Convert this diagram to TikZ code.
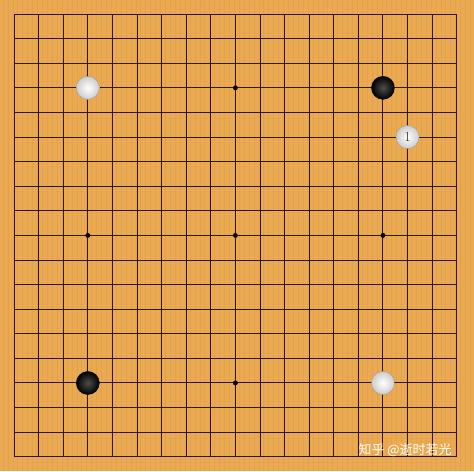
\documentclass[tikz,border=0pt]{standalone}
\usepackage{fontspec}
\newfontfamily\cjk{Noto Sans CJK SC}
\usetikzlibrary{positioning}
\definecolor{wood}{RGB}{235,170,82}
\definecolor{woodline}{RGB}{226,162,76}
\definecolor{gridline}{RGB}{45,25,8}
\tikzset{
	x=1cm, y=-1cm,
	board/.style={draw=gridline, line width=1.15pt},
	star/.style={circle, fill=black, inner sep=0pt, minimum size=0.2cm},
	whitestone/.style={circle, inner sep=0pt, minimum size=0.94cm,
		draw=black!40, line width=0.4pt,
		inner color=white, outer color=black!20},
	blackstone/.style={circle, inner sep=0pt, minimum size=0.94cm,
		draw=black, line width=0.4pt,
		inner color=black!70, outer color=black},
	movenum/.style={font=\fontsize{16}{16}\selectfont, text=black!85}
}
\begin{document}
\begin{tikzpicture}
	\useasboundingbox (-0.57,-0.57) rectangle (18.70,18.59);
	\fill[wood] (-0.57,-0.57) rectangle (18.70,18.59);
	% grain
	\foreach \g in {-0.45,-0.25,...,18.6}
		\draw[woodline, line width=0.5pt] (\g,-0.57) -- (\g,18.59);

	% grid
	\foreach \i in {0,...,18} {
		\draw[board] (\i,0) -- (\i,18);
		\draw[board] (0,\i) -- (18,\i);
	}

	% hoshi
	\foreach \sx in {3,9,15}
		\foreach \sy in {3,9,15}
			\node [star] (hoshi-\sx-\sy) at (\sx,\sy) {};

	% stones
	\node [whitestone] (w1) at (3,3) {};
	\node [blackstone] (b1) at (15,3) {};
	\node [whitestone, movenum] (w2) at (16,5) {1};
	\node [blackstone] (b2) at (3,15) {};
	\node [whitestone] (w3) at (15,15) {};

	% watermark
	\node [anchor=west, text=white, font=\cjk\fontsize{15}{15}\selectfont, inner sep=0pt]
		(mark) at (14.0,17.72) {知乎 @逝时若光};

\end{tikzpicture}
\end{document}
